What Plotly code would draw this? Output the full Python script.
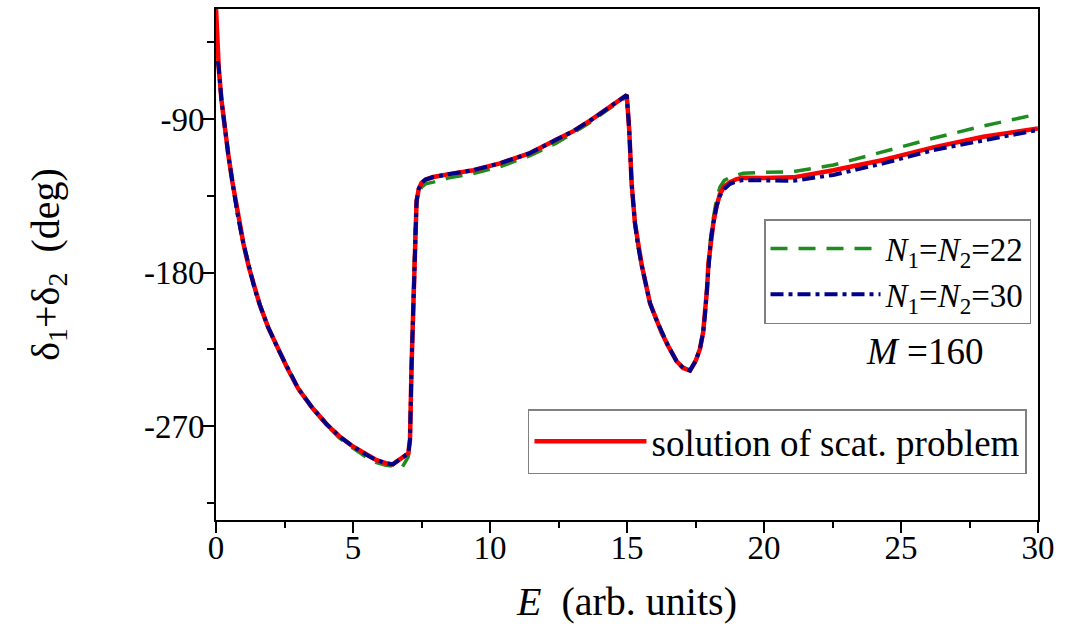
import plotly.graph_objects as go

# ---- data ----
E_red = [0.0, 0.05, 0.1, 0.2, 0.3, 0.45, 0.6, 0.8, 1.0, 1.2, 1.4, 1.6, 1.9, 2.27, 2.6,
         3.0, 3.5, 4.04, 4.5, 5.0, 5.5, 5.86, 6.2, 6.45, 7.02, 7.08, 7.14, 7.2, 7.23, 7.27,
         7.32, 7.4, 7.5, 7.65, 7.93, 8.5, 9.39, 10.36, 11.46, 12.43, 13.0, 13.65, 14.3,
         14.99, 15.08, 15.12, 15.17, 15.29, 15.4, 15.54, 15.84, 16.0, 16.27, 16.5, 16.81,
         17.05, 17.3, 17.5, 17.66, 17.78, 17.85, 17.92, 17.97, 18.05, 18.15, 18.27, 18.39,
         18.55, 18.76, 19.0, 19.24, 20.0, 21.07, 22.53, 24.35, 26.18, 28.0, 30.0]
d_red = [-25, -48, -60, -79, -93, -111, -127, -147, -163, -177, -189, -199, -212, -225, -236,
         -248, -259, -269, -276, -282, -287, -290, -291.8, -292.5, -286, -278, -233, -195, -175, -152,
         -138, -131, -127.5, -125.5, -124, -122.3, -120, -116, -110, -102, -97.5, -91, -83.5,
         -76, -96, -112, -128, -151, -164, -176, -198, -205, -215.5, -223, -232,
         -236, -237.5, -232, -225, -215, -204, -190, -175, -162, -151, -141, -134,
         -129.5, -127, -125.2, -124.5, -124.6, -124.2, -120, -114, -106.6, -100.4, -95.5]

E_n22 = [0.07, 0.1, 0.2, 0.3, 0.45, 0.6, 0.8, 1.0, 1.2, 1.4, 1.6, 1.9, 2.27, 2.6,
         3.0, 3.5, 4.04, 4.5, 5.0, 5.5, 5.86, 6.2, 6.45, 6.8, 7.02, 7.08, 7.14, 7.2, 7.23,
         7.27, 7.32, 7.4, 7.5, 7.65, 7.93, 8.5, 9.39, 10.36, 11.46, 12.43, 13.0, 13.65, 14.3,
         14.99, 15.08, 15.12, 15.17, 15.29, 15.4, 15.54, 15.84, 16.0, 16.27, 16.5, 16.81,
         17.05, 17.3, 17.5, 17.66, 17.78, 17.85, 17.92, 17.97, 18.05, 18.15, 18.27, 18.39,
         18.55, 18.76, 19.0, 19.24, 20.0, 21.07, 22.53, 24.35, 26.18, 28.0, 30.0]
d_n22 = [-56, -60, -79, -93, -111, -127, -147, -163, -177, -189, -199, -212, -225, -236,
         -248, -259.5, -269.5, -277, -283, -288.5, -291.5, -293, -293.5, -294, -288, -278, -233, -195, -175,
         -153, -140, -134, -130, -128, -127, -124.5, -122, -118, -111.5, -104, -98.5, -92, -84.5,
         -77, -96, -112, -128, -151, -164, -176, -198, -205, -215.5, -223, -232,
         -235.5, -237.5, -232, -225, -215, -204, -190, -175, -160, -148, -137, -130,
         -126, -124.2, -123, -121.8, -121.3, -120.9, -117, -109.2, -101.3, -94.1, -87.1]

E_n30 = [0.07, 0.1, 0.2, 0.3, 0.45, 0.6, 0.8, 1.0, 1.2, 1.4, 1.6, 1.9, 2.27, 2.6,
         3.0, 3.5, 4.04, 4.5, 5.0, 5.5, 5.86, 6.2, 6.45, 7.02, 7.08, 7.14, 7.2, 7.23, 7.27,
         7.32, 7.4, 7.5, 7.65, 7.93, 8.5, 9.39, 10.36, 11.46, 12.43, 13.0, 13.65, 14.3,
         14.99, 15.08, 15.12, 15.17, 15.29, 15.4, 15.54, 15.84, 16.0, 16.27, 16.5, 16.81,
         17.05, 17.3, 17.5, 17.66, 17.78, 17.85, 17.92, 17.97, 18.05, 18.15, 18.27, 18.39,
         18.55, 18.76, 19.0, 19.24, 20.0, 21.07, 22.53, 24.35, 26.18, 28.0, 30.0]
d_n30 = [-56, -60, -79, -93, -111, -127, -147, -163, -177, -189, -199, -212, -225, -236,
         -248, -259, -269, -276, -282, -287, -290, -291.8, -292.5, -286, -278, -233, -195, -175, -152,
         -138, -131, -127.5, -125.5, -124, -122.3, -120, -116, -110, -102, -97.5, -91, -83.5,
         -76, -96, -112, -128, -151, -164, -176, -198, -205, -215.5, -223, -232,
         -236, -237.5, -232, -225, -215, -204, -190, -175, -162, -151, -141, -135,
         -131, -128, -126.5, -125.8, -126, -126.2, -122.8, -116, -108.2, -102.3, -96.4]

x_ticks = [0, 5, 10, 15, 20, 25, 30]
y_ticks = [-270, -180, -90]

FONT = "Liberation Serif, Times New Roman, serif"

fig = go.Figure()
fig.add_trace(go.Scatter(
    x=E_n22, y=d_n22, mode="lines", legend="legend",
    name="<i>N</i><sub>1</sub>=<i>N</i><sub>2</sub>=22",
    line=dict(color="#1E8C1E", width=3.5, dash="17px,11px")))
fig.add_trace(go.Scatter(
    x=E_red, y=d_red, mode="lines", legend="legend2",
    name="solution of scat. problem",
    line=dict(color="#FF0000", width=4.5)))
fig.add_trace(go.Scatter(
    x=E_n30, y=d_n30, mode="lines", legend="legend",
    name="<i>N</i><sub>1</sub>=<i>N</i><sub>2</sub>=30",
    line=dict(color="#000088", width=4, dash="13px,5px,4px,5px")))

fig.update_layout(
    width=1081, height=627,
    margin=dict(l=216, r=43, t=9, b=107),
    paper_bgcolor="white", plot_bgcolor="white",
    font=dict(family=FONT, color="black", size=32),
    showlegend=True,
    legend=dict(x=0.9915, y=0.589, xanchor="right", yanchor="top",
                bordercolor="#808080", borderwidth=1.5, bgcolor="white",
                font=dict(family=FONT, size=33), itemwidth=110,
                tracegroupgap=0),
    legend2=dict(x=0.9866, y=0.217, xanchor="right", yanchor="top",
                 bordercolor="#808080", borderwidth=1.5, bgcolor="white",
                 font=dict(family=FONT, size=37), itemwidth=112),
    annotations=[dict(text="<i>M</i> =160", xref="paper", yref="paper",
                      x=0.8625, y=0.3288, xanchor="center", yanchor="middle",
                      showarrow=False, font=dict(family=FONT, size=37))],
)

fig.update_xaxes(
    range=[0, 30], tickvals=x_ticks, ticktext=[str(v) for v in x_ticks],
    showline=True, linecolor="black", linewidth=2, mirror=True,
    ticks="outside", ticklen=11, tickwidth=2, tickcolor="black",
    minor=dict(ticks="outside", ticklen=6, tickwidth=2, tickcolor="black", dtick=2.5, tick0=0),
    showgrid=False, zeroline=False, automargin=False, ticklabelstandoff=-14,
    tickfont=dict(family=FONT, size=33),
    title=dict(text="<i>E</i>  (arb. units)", font=dict(family=FONT, size=40), standoff=22),
)
fig.update_yaxes(
    range=[-325.1, -25.5], tickvals=y_ticks, ticktext=[str(v) for v in y_ticks],
    showline=True, linecolor="black", linewidth=2, mirror=True,
    ticks="outside", ticklen=12, tickwidth=2, tickcolor="black",
    minor=dict(ticks="outside", ticklen=7, tickwidth=2, tickcolor="black", dtick=45, tick0=-45),
    showgrid=False, zeroline=False, automargin=False, ticklabelstandoff=-9,
    tickfont=dict(family=FONT, size=33),
    title=dict(text="δ<sub>1</sub>+δ<sub>2</sub>  (deg)", font=dict(family=FONT, size=40), standoff=72),
)

fig.write_html("out.html", config={"displayModeBar": False},
               post_script="document.body.style.margin='0';document.body.style.overflow='hidden';")
